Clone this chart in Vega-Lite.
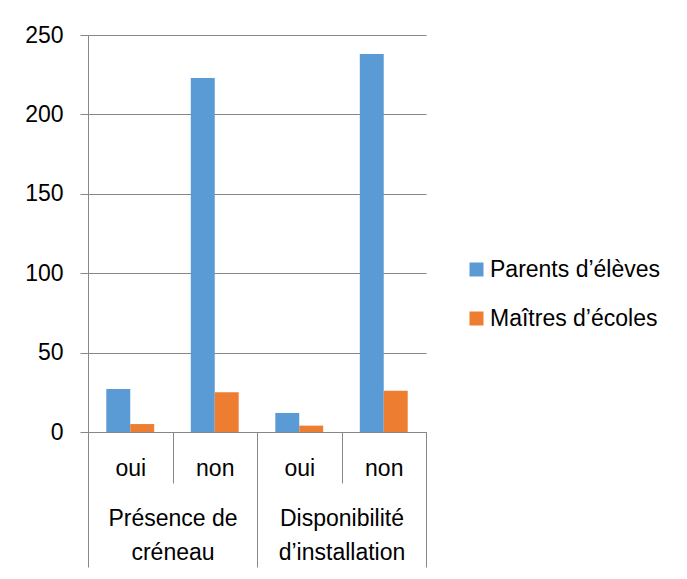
{
  "$schema": "https://vega.github.io/schema/vega-lite/v6.json",
  "autosize": {"type": "none"},
  "padding": {"left": 88, "top": 35, "right": 261, "bottom": 147},
  "width": 338,
  "height": 397,
  "background": "white",
  "config": {
    "view": {"stroke": null},
    "font": "Liberation Sans",
    "axis": {"labelFont": "Liberation Sans", "labelColor": "#000000"},
    "legend": {"labelFont": "Liberation Sans", "labelColor": "#000000"}
  },
  "data": {
    "values": [
      {"groupe": "Présence de créneau", "categorie": "Présence de créneau|oui", "serie": "Parents d’élèves", "valeur": 27},
      {"groupe": "Présence de créneau", "categorie": "Présence de créneau|oui", "serie": "Maîtres d’écoles", "valeur": 5},
      {"groupe": "Présence de créneau", "categorie": "Présence de créneau|non", "serie": "Parents d’élèves", "valeur": 223},
      {"groupe": "Présence de créneau", "categorie": "Présence de créneau|non", "serie": "Maîtres d’écoles", "valeur": 25},
      {"groupe": "Disponibilité d’installation", "categorie": "Disponibilité d’installation|oui", "serie": "Parents d’élèves", "valeur": 12},
      {"groupe": "Disponibilité d’installation", "categorie": "Disponibilité d’installation|oui", "serie": "Maîtres d’écoles", "valeur": 4},
      {"groupe": "Disponibilité d’installation", "categorie": "Disponibilité d’installation|non", "serie": "Parents d’élèves", "valeur": 238},
      {"groupe": "Disponibilité d’installation", "categorie": "Disponibilité d’installation|non", "serie": "Maîtres d’écoles", "valeur": 26}
    ]
  },
  "layer": [
    {
      "mark": {"type": "bar"},
      "encoding": {
        "x": {
          "field": "categorie",
          "type": "nominal",
          "sort": ["Présence de créneau|oui", "Présence de créneau|non", "Disponibilité d’installation|oui", "Disponibilité d’installation|non"],
          "scale": {"paddingInner": 0, "paddingOuter": 0},
          "axis": {
            "orient": "bottom",
            "title": null,
            "domain": true,
            "domainColor": "#878787",
            "ticks": true,
            "tickBand": "extent",
            "tickSize": 51,
            "tickColor": "#878787",
            "labelExpr": "indexof(datum.value + '', '|') >= 0 ? split(datum.value, '|')[1] : ''",
            "labelAngle": 0,
            "labelFontSize": 23,
            "labelBaseline": "middle",
            "labelPadding": -15,
            "grid": false
          }
        },
        "xOffset": {
          "field": "serie",
          "type": "nominal",
          "sort": ["Parents d’élèves", "Maîtres d’écoles"],
          "scale": {"paddingInner": 0, "paddingOuter": 0.765}
        },
        "y": {
          "field": "valeur",
          "type": "quantitative",
          "scale": {"domain": [0, 250], "nice": false},
          "axis": {
            "title": null,
            "values": [0, 50, 100, 150, 200, 250],
            "grid": true,
            "gridColor": "#878787",
            "gridWidth": 1,
            "domain": true,
            "domainColor": "#878787",
            "tickSize": 8,
            "tickColor": "#878787",
            "labelPadding": 17,
            "labelFontSize": 23
          }
        },
        "color": {
          "field": "serie",
          "type": "nominal",
          "scale": {"domain": ["Parents d’élèves", "Maîtres d’écoles"], "range": ["#5B9BD5", "#ED7D31"]},
          "legend": {
            "title": null,
            "orient": "none",
            "legendX": 377,
            "legendY": 223,
            "padding": 0,
            "symbolType": "square",
            "symbolSize": 196,
            "symbolStrokeWidth": 0,
            "symbolOpacity": 1,
            "labelFontSize": 23,
            "labelOffset": 2,
            "labelLimit": 300,
            "rowPadding": 25
          }
        }
      }
    },
    {
      "mark": {"type": "point", "opacity": 0},
      "encoding": {
        "x": {
          "field": "groupe",
          "type": "nominal",
          "sort": ["Présence de créneau", "Disponibilité d’installation"],
          "scale": {"paddingInner": 0, "paddingOuter": 0},
          "axis": {
            "orient": "bottom",
            "title": null,
            "domain": false,
            "ticks": true,
            "tickBand": "extent",
            "tickSize": 135,
            "tickColor": "#878787",
            "labelExpr": "datum.value == 'Présence de créneau' ? ['Présence de', 'créneau'] : (datum.value == 'Disponibilité d’installation' ? ['Disponibilité', 'd’installation'] : '')",
            "labelAngle": 0,
            "labelFontSize": 23,
            "labelLineHeight": 34,
            "labelBaseline": "middle",
            "labelPadding": -49,
            "labelLimit": 300,
            "grid": false
          }
        }
      }
    }
  ],
  "resolve": {"scale": {"x": "independent"}, "axis": {"x": "independent"}}
}
